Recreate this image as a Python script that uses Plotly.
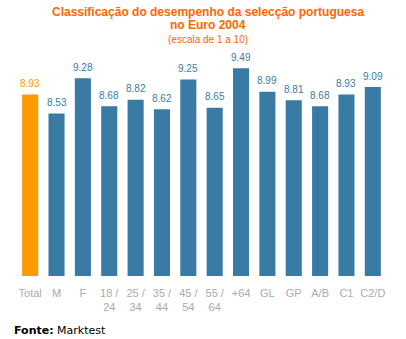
import plotly.graph_objects as go

categories = ["Total", "M", "F", "18 /<br>24", "25 /<br>34", "35 /<br>44", "45 /<br>54",
              "55 /<br>64", "+64", "GL", "GP", "A/B", "C1", "C2/D"]
values = [8.93, 8.53, 9.28, 8.68, 8.82, 8.62, 9.25, 8.65, 9.49, 8.99, 8.81, 8.68, 8.93, 9.09]
labels = ["%.2f" % v for v in values]

blue = "#3a7ba5"
orange = "#ff9900"
colors = [orange] + [blue] * (len(values) - 1)

fig = go.Figure(go.Bar(
    x=categories, y=values, base=0,
    marker=dict(color=colors, line=dict(width=0)),
))

L, R, T, B = 17, 20, 41, 63
ph = 339 - T - B
pw = 406 - L - R
def py(pix):
    return (339 - B - pix) / ph
def px(pix):
    return (pix - L) / pw

title_font = dict(family="Liberation Sans, Arial", size=12, color="#ff6600")

anns = [
    dict(text="<b>Classificação do desempenho da selecção portuguesa</b>", x=px(208), y=py(12),
         xref="paper", yref="paper", showarrow=False, yanchor="middle", font=title_font),
    dict(text="<b>no Euro 2004</b>", x=px(208), y=py(25), xref="paper", yref="paper",
         showarrow=False, yanchor="middle", font=title_font),
    dict(text="(escala de 1 a 10)", x=px(208), y=py(39), xref="paper", yref="paper",
         showarrow=False, yanchor="middle",
         font=dict(family="Liberation Sans, Arial", size=10, color="#ff6600")),
    dict(text="<b>Fonte:</b> Marktest", x=px(12), y=py(330), xref="paper", yref="paper",
         showarrow=False, xanchor="left", yanchor="middle",
         font=dict(family="DejaVu Sans", size=11, color="black")),
]
for i, (v, t, col) in enumerate(zip(values, labels, colors)):
    anns.append(dict(x=i, y=v, text=t, xref="x", yref="y", showarrow=False,
                     yanchor="middle", yshift=11,
                     font=dict(family="Liberation Sans, Arial", size=10, color=col)))

fig.update_layout(
    width=406, height=339,
    margin=dict(l=L, r=R, t=T, b=B),
    paper_bgcolor="white", plot_bgcolor="white",
    bargap=0.39,
    showlegend=False,
    xaxis=dict(type="category", showgrid=False, zeroline=False, showline=False, ticks="",
               ticklabelstandoff=9,
               tickfont=dict(family="Liberation Sans, Arial", size=11, color="#aaaaaa")),
    yaxis=dict(range=[5.07, 10.07], visible=False),
    annotations=anns,
)

fig.write_html("out.html")
